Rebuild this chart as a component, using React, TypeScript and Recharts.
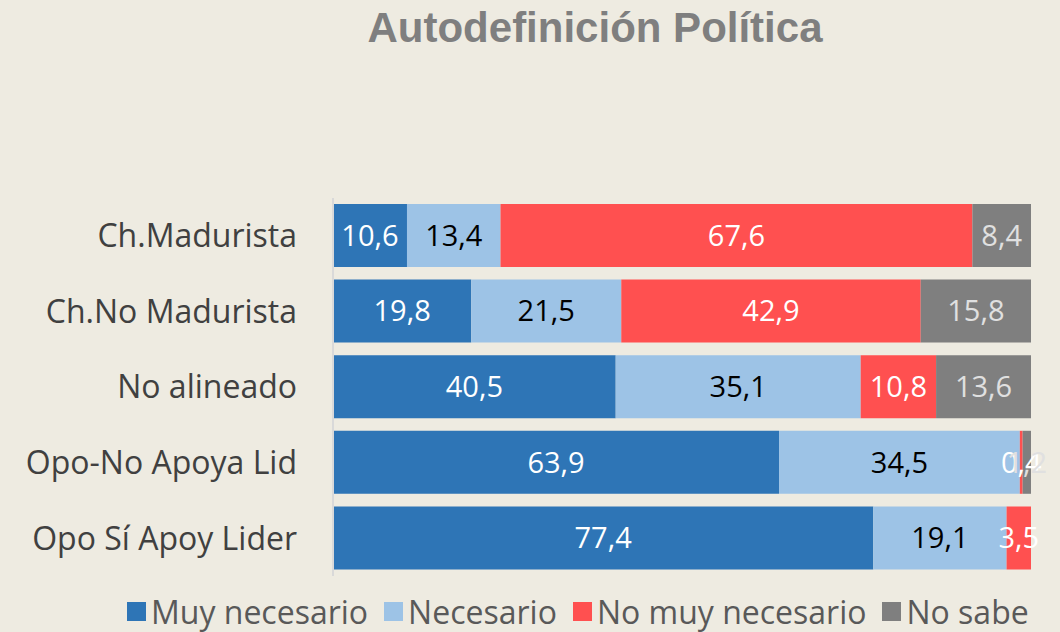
import React from 'react';
import { BarChart, Bar, XAxis, YAxis, LabelList } from 'recharts';

const groups = ['Ch.Madurista', 'Ch.No Madurista', 'No alineado', 'Opo-No Apoya Lid', 'Opo Sí Apoy Lider'];
const muyNecesario = [10.6, 19.8, 40.5, 63.9, 77.4];
const necesario = [13.4, 21.5, 35.1, 34.5, 19.1];
const noMuyNecesario = [67.6, 42.9, 10.8, 0.4, 3.5];
const noSabe = [8.4, 15.8, 13.6, 1.2, 0.0];

const series = [
  { key: 'muy', name: 'Muy necesario', color: '#2E75B6', label: '#ffffff' },
  { key: 'nec', name: 'Necesario', color: '#9DC3E6', label: '#000000' },
  { key: 'nomuy', name: 'No muy necesario', color: '#FF5050', label: '#ffffff' },
  { key: 'ns', name: 'No sabe', color: '#7F7F7F', label: '#e0e0e0' },
];

const data = groups.map((g, i) => ({
  group: g,
  muy: muyNecesario[i],
  nec: necesario[i],
  nomuy: noMuyNecesario[i],
  ns: noSabe[i],
}));

const fmt = (v: any) => Number(v).toFixed(1).replace('.', ',');

const App = () => {
  return (
    <div style={{ position: 'absolute', left: 0, top: 0, width: 1060, height: 632, background: '#EEEBE1', overflow: 'hidden' }}>
      <div style={{ position: 'absolute', top: 4, left: 0, width: 1060, paddingLeft: 130, boxSizing: 'border-box', textAlign: 'center', fontFamily: 'Liberation Sans, Arial, sans-serif', fontWeight: 'bold', fontSize: 42, color: '#7F7F7F' }}>
        Autodefinición Política
      </div>
      <BarChart
        width={1060}
        height={632}
        data={data}
        layout="vertical"
        margin={{ top: 198, right: 29, left: 0, bottom: 56 }}
      >
        <XAxis type="number" domain={[0, 100]} hide />
        <YAxis
          type="category"
          dataKey="group"
          width={333}
          tickLine={false}
          axisLine={{ stroke: '#d9d9d9', strokeWidth: 2 }}
          tickMargin={30}
          tick={{ fill: '#404040', fontSize: 32, fontFamily: 'Open Sans, sans-serif' }}
        />
        {series.map((s) => (
          <Bar key={s.key} dataKey={s.key} name={s.name} stackId="a" fill={s.color} barSize={63} isAnimationActive={false}>
            <LabelList dataKey={s.key} position="center" formatter={fmt} fill={s.label} fontSize={29} fontFamily="Open Sans, sans-serif" />
          </Bar>
        ))}
      </BarChart>
      <div style={{ position: 'absolute', left: 127, top: 590, display: 'flex', alignItems: 'center', fontFamily: 'Open Sans, sans-serif', fontSize: 32, color: '#595959', whiteSpace: 'nowrap' }}>
        {series.map((s) => (
          <div key={s.key} style={{ display: 'flex', alignItems: 'center', marginRight: 16 }}>
            <span style={{ width: 19, height: 19, background: s.color, display: 'inline-block', marginRight: 5 }} />
            <span>{s.name}</span>
          </div>
        ))}
      </div>
    </div>
  );
};

export default App;
